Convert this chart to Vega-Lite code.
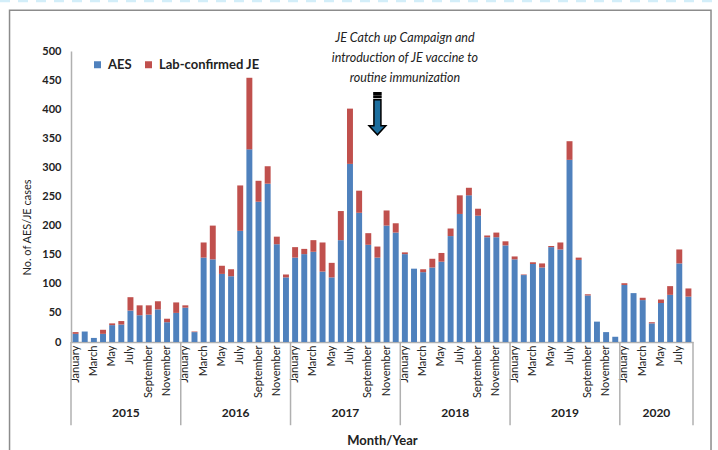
{
  "$schema": "https://vega.github.io/schema/vega-lite/v6.json",
  "width": 622,
  "height": 291,
  "autosize": "none",
  "padding": {"left": 71, "top": 51, "right": 25, "bottom": 108},
  "background": "white",
  "config": {"view": {"stroke": null}, "font": "Lato"},
  "datasets": {
    "cases": [
      {"m": "2015-01", "AES": 14, "Lab-confirmed JE": 3},
      {"m": "2015-02", "AES": 18, "Lab-confirmed JE": 0},
      {"m": "2015-03", "AES": 7, "Lab-confirmed JE": 0},
      {"m": "2015-04", "AES": 14, "Lab-confirmed JE": 7},
      {"m": "2015-05", "AES": 29, "Lab-confirmed JE": 3},
      {"m": "2015-06", "AES": 30, "Lab-confirmed JE": 6},
      {"m": "2015-07", "AES": 54, "Lab-confirmed JE": 23},
      {"m": "2015-08", "AES": 46, "Lab-confirmed JE": 17},
      {"m": "2015-09", "AES": 47, "Lab-confirmed JE": 16},
      {"m": "2015-10", "AES": 56, "Lab-confirmed JE": 14},
      {"m": "2015-11", "AES": 34, "Lab-confirmed JE": 6},
      {"m": "2015-12", "AES": 50, "Lab-confirmed JE": 18},
      {"m": "2016-01", "AES": 59, "Lab-confirmed JE": 4},
      {"m": "2016-02", "AES": 17, "Lab-confirmed JE": 1},
      {"m": "2016-03", "AES": 145, "Lab-confirmed JE": 26},
      {"m": "2016-04", "AES": 142, "Lab-confirmed JE": 58},
      {"m": "2016-05", "AES": 117, "Lab-confirmed JE": 14},
      {"m": "2016-06", "AES": 113, "Lab-confirmed JE": 12},
      {"m": "2016-07", "AES": 191, "Lab-confirmed JE": 78},
      {"m": "2016-08", "AES": 331, "Lab-confirmed JE": 123},
      {"m": "2016-09", "AES": 241, "Lab-confirmed JE": 36},
      {"m": "2016-10", "AES": 272, "Lab-confirmed JE": 30},
      {"m": "2016-11", "AES": 168, "Lab-confirmed JE": 13},
      {"m": "2016-12", "AES": 111, "Lab-confirmed JE": 5},
      {"m": "2017-01", "AES": 145, "Lab-confirmed JE": 18},
      {"m": "2017-02", "AES": 151, "Lab-confirmed JE": 9},
      {"m": "2017-03", "AES": 155, "Lab-confirmed JE": 20},
      {"m": "2017-04", "AES": 121, "Lab-confirmed JE": 50},
      {"m": "2017-05", "AES": 111, "Lab-confirmed JE": 25},
      {"m": "2017-06", "AES": 175, "Lab-confirmed JE": 50},
      {"m": "2017-07", "AES": 306, "Lab-confirmed JE": 95},
      {"m": "2017-08", "AES": 222, "Lab-confirmed JE": 38},
      {"m": "2017-09", "AES": 167, "Lab-confirmed JE": 20},
      {"m": "2017-10", "AES": 145, "Lab-confirmed JE": 19},
      {"m": "2017-11", "AES": 200, "Lab-confirmed JE": 26},
      {"m": "2017-12", "AES": 188, "Lab-confirmed JE": 16},
      {"m": "2018-01", "AES": 151, "Lab-confirmed JE": 3},
      {"m": "2018-02", "AES": 126, "Lab-confirmed JE": 0},
      {"m": "2018-03", "AES": 120, "Lab-confirmed JE": 5},
      {"m": "2018-04", "AES": 128, "Lab-confirmed JE": 15},
      {"m": "2018-05", "AES": 138, "Lab-confirmed JE": 15},
      {"m": "2018-06", "AES": 182, "Lab-confirmed JE": 13},
      {"m": "2018-07", "AES": 220, "Lab-confirmed JE": 32},
      {"m": "2018-08", "AES": 252, "Lab-confirmed JE": 13},
      {"m": "2018-09", "AES": 217, "Lab-confirmed JE": 12},
      {"m": "2018-10", "AES": 180, "Lab-confirmed JE": 3},
      {"m": "2018-11", "AES": 180, "Lab-confirmed JE": 8},
      {"m": "2018-12", "AES": 166, "Lab-confirmed JE": 7},
      {"m": "2019-01", "AES": 142, "Lab-confirmed JE": 5},
      {"m": "2019-02", "AES": 115, "Lab-confirmed JE": 1},
      {"m": "2019-03", "AES": 134, "Lab-confirmed JE": 3},
      {"m": "2019-04", "AES": 128, "Lab-confirmed JE": 7},
      {"m": "2019-05", "AES": 163, "Lab-confirmed JE": 2},
      {"m": "2019-06", "AES": 159, "Lab-confirmed JE": 12},
      {"m": "2019-07", "AES": 313, "Lab-confirmed JE": 32},
      {"m": "2019-08", "AES": 141, "Lab-confirmed JE": 4},
      {"m": "2019-09", "AES": 80, "Lab-confirmed JE": 2},
      {"m": "2019-10", "AES": 35, "Lab-confirmed JE": 0},
      {"m": "2019-11", "AES": 17, "Lab-confirmed JE": 0},
      {"m": "2019-12", "AES": 9, "Lab-confirmed JE": 0},
      {"m": "2020-01", "AES": 98, "Lab-confirmed JE": 3},
      {"m": "2020-02", "AES": 84, "Lab-confirmed JE": 0},
      {"m": "2020-03", "AES": 72, "Lab-confirmed JE": 4},
      {"m": "2020-04", "AES": 32, "Lab-confirmed JE": 2},
      {"m": "2020-05", "AES": 67, "Lab-confirmed JE": 6},
      {"m": "2020-06", "AES": 81, "Lab-confirmed JE": 15},
      {"m": "2020-07", "AES": 135, "Lab-confirmed JE": 24},
      {"m": "2020-08", "AES": 78, "Lab-confirmed JE": 14}
    ],
    "years": [
      {"year": "2015", "mid": 6},
      {"year": "2016", "mid": 18},
      {"year": "2017", "mid": 30},
      {"year": "2018", "mid": 42},
      {"year": "2019", "mid": 54},
      {"year": "2020", "mid": 64}
    ],
    "bounds": [{"b": 0}, {"b": 12}, {"b": 24}, {"b": 36}, {"b": 48}, {"b": 60}, {"b": 68}]
  },
  "resolve": {"scale": {"x": "independent"}, "axis": {"y": "independent"}},
  "layer": [
    {
      "data": {"name": "cases"},
      "transform": [{"fold": ["AES", "Lab-confirmed JE"], "as": ["type", "n"]}],
      "mark": {"type": "bar"},
      "encoding": {
        "x": {
          "field": "m", "type": "ordinal", "title": "Month/Year",
          "scale": {"paddingInner": 0.35, "paddingOuter": 0.175},
          "axis": {
            "labelExpr": "toNumber(slice(datum.value, 5)) % 2 == 1 ? utcFormat(toDate(datum.value + '-01'), '%B') : ''",
            "labelAngle": -90, "labelOverlap": false, "labelFontSize": 11, "labelColor": "#222",
            "labelPadding": 3, "ticks": false, "domainColor": "#b0b0b0", "domainWidth": 1.5,
            "titleFontSize": 13, "titleFontWeight": "bold", "titleColor": "#222",
            "titleY": 98, "titleBaseline": "middle"
          }
        },
        "y": {
          "field": "n", "type": "quantitative", "stack": "zero", "title": "No. of AES/JE cases",
          "scale": {"domain": [0, 500], "nice": false},
          "axis": {
            "orient": "left",
            "values": [0, 50, 100, 150, 200, 250, 300, 350, 400, 450, 500],
            "labelOverlap": false, "labelFlush": false,
            "grid": false, "ticks": false, "domainColor": "#b0b0b0", "domainWidth": 1.5,
            "labelFontSize": 11, "labelFontWeight": "bold", "labelColor": "#222", "labelPadding": 10,
            "titleFontSize": 11, "titleFontWeight": "normal", "titleColor": "#222",
            "titleX": -44, "titleY": 176, "titleBaseline": "middle", "titleAlign": "center", "titleAngle": -90
          }
        },
        "color": {
          "field": "type", "type": "nominal",
          "scale": {"domain": ["AES", "Lab-confirmed JE"], "range": ["#4f81bd", "#c0504d"]},
          "legend": {
            "orient": "none", "legendX": 20, "legendY": 7, "direction": "horizontal", "title": null,
            "symbolType": "square", "symbolSize": 49, "symbolStrokeWidth": 0,
            "labelFontSize": 13, "labelFontWeight": "bold", "labelColor": "#222",
            "columnPadding": 10, "labelOffset": 4, "padding": 0
          }
        },
        "order": {"field": "type", "sort": "ascending"}
      }
    },
    {
      "data": {"name": "bounds"},
      "mark": {"type": "rule", "color": "#b0b0b0", "strokeWidth": 1.5},
      "encoding": {
        "x": {"field": "b", "type": "quantitative", "scale": {"domain": [0, 68], "nice": false, "zero": false}, "axis": null},
        "y": {"datum": 0, "type": "quantitative", "scale": {"domain": [0, 500], "nice": false}, "axis": null},
        "y2": {"datum": -143}
      }
    },
    {
      "data": {"name": "years"},
      "mark": {"type": "text", "fontSize": 12, "fontWeight": "bold", "color": "#222", "baseline": "middle", "align": "center"},
      "encoding": {
        "x": {"field": "mid", "type": "quantitative", "scale": {"domain": [0, 68], "nice": false, "zero": false}, "axis": null},
        "y": {"datum": -122, "type": "quantitative", "scale": {"domain": [0, 500], "nice": false}, "axis": null},
        "text": {"field": "year"}
      }
    },
    {
      "data": {"values": [{}]},
      "mark": {"type": "rect", "fillOpacity": 0, "stroke": "#8c8c8c", "strokeWidth": 1.5},
      "encoding": {
        "x": {"datum": -6.72, "type": "quantitative", "scale": {"domain": [0, 68], "nice": false, "zero": false}, "axis": null},
        "x2": {"datum": 69.97},
        "y": {"datum": 570, "type": "quantitative", "scale": {"domain": [0, 500], "nice": false}, "axis": null},
        "y2": {"datum": -205}
      }
    },
    {
      "data": {"values": [{}]},
      "mark": {"type": "rule", "color": "#d3eef9", "strokeWidth": 2.5, "strokeDash": [10, 8]},
      "encoding": {
        "x": {"datum": -7.76, "type": "quantitative", "scale": {"domain": [0, 68], "nice": false, "zero": false}, "axis": null},
        "x2": {"datum": 70.7},
        "y": {"datum": 586, "type": "quantitative", "scale": {"domain": [0, 500], "nice": false}, "axis": null}
      }
    },
    {
      "data": {"values": [{}]},
      "mark": {
        "type": "text", "fontSize": 12.5, "fontStyle": "italic", "color": "#222", "align": "center",
        "baseline": "middle", "lineBreak": "\n", "lineHeight": 20,
        "text": "JE Catch up Campaign and\nintroduction of JE vaccine to\nroutine immunization"
      },
      "encoding": {
        "x": {"datum": 36.5, "type": "quantitative", "scale": {"domain": [0, 68], "nice": false, "zero": false}, "axis": null},
        "y": {"datum": 522, "type": "quantitative", "scale": {"domain": [0, 500], "nice": false}, "axis": null}
      }
    },
    {
      "data": {"values": [{}]},
      "mark": {
        "type": "point", "filled": true, "fill": "#1d6f9f", "fillOpacity": 1, "stroke": "#000", "strokeWidth": 1.5, "opacity": 1,
        "size": 1764,
        "shape": "M-0.167,-0.667 L0.167,-0.667 L0.167,0.571 L0.4,0.571 L0,1 L-0.4,0.571 L-0.167,0.571 Z M-0.167,-1 L0.167,-1 L0.167,-0.93 L-0.167,-0.93 Z M-0.167,-0.85 L0.167,-0.85 L0.167,-0.78 L-0.167,-0.78 Z"
      },
      "encoding": {
        "x": {"datum": 33.5, "type": "quantitative", "scale": {"domain": [0, 68], "nice": false, "zero": false}, "axis": null},
        "y": {"datum": 392, "type": "quantitative", "scale": {"domain": [0, 500], "nice": false}, "axis": null}
      }
    }
  ]
}
